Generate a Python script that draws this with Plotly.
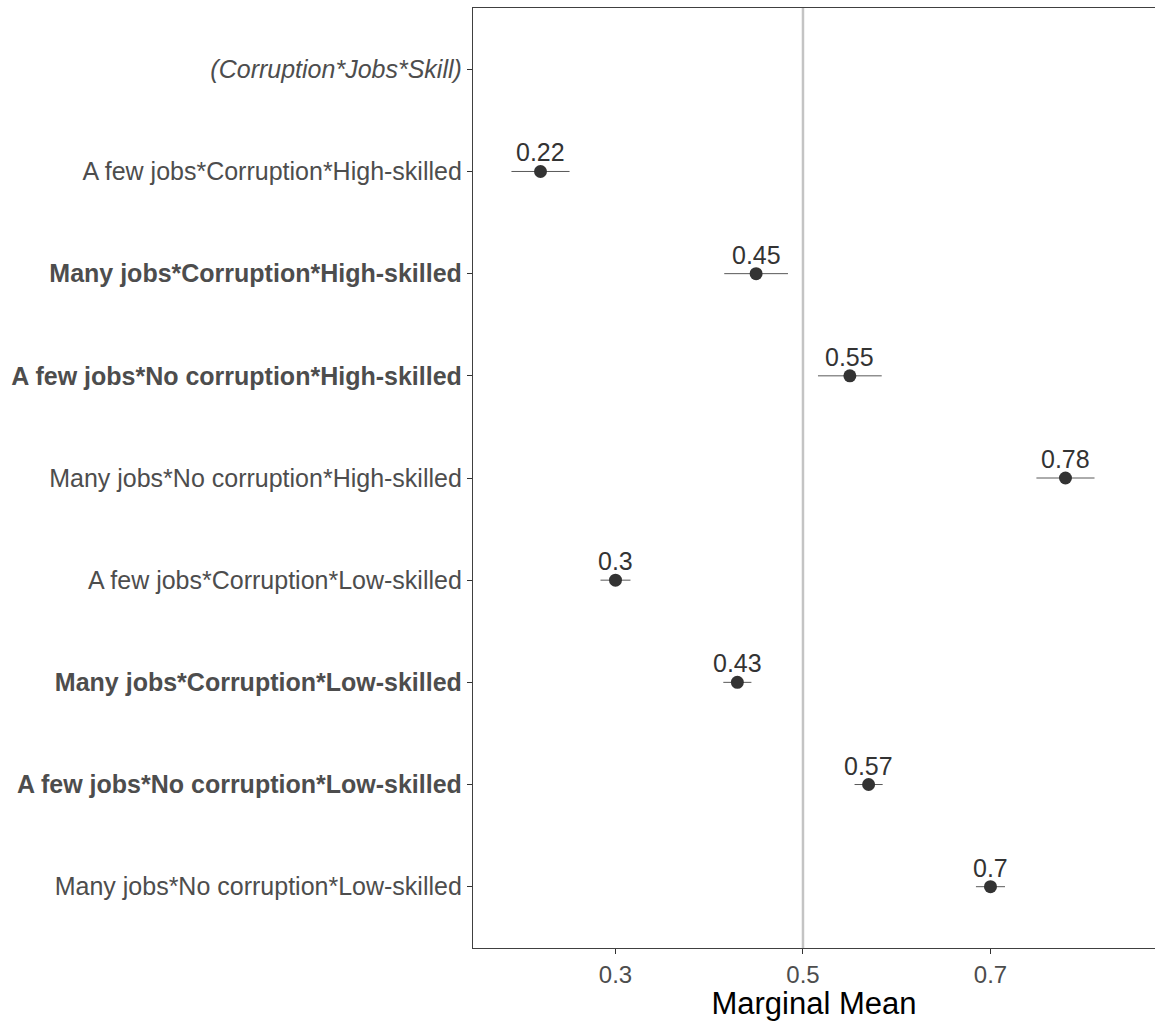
import plotly.graph_objects as go

# Conjoint marginal means by profile (Corruption x Jobs x Skill)
categories = [
    "<i>(Corruption*Jobs*Skill)</i>",
    "A few jobs*Corruption*High-skilled",
    "<b>Many jobs*Corruption*High-skilled</b>",
    "<b>A few jobs*No corruption*High-skilled</b>",
    "Many jobs*No corruption*High-skilled",
    "A few jobs*Corruption*Low-skilled",
    "<b>Many jobs*Corruption*Low-skilled</b>",
    "<b>A few jobs*No corruption*Low-skilled</b>",
    "Many jobs*No corruption*Low-skilled",
]
estimates = [None, 0.22, 0.45, 0.55, 0.78, 0.30, 0.43, 0.57, 0.70]
half_ci = [None, 0.031, 0.034, 0.034, 0.031, 0.016, 0.015, 0.015, 0.0155]
x_ticks = [0.3, 0.5, 0.7]

FONT = "Liberation Sans, Arial, sans-serif"

pos = list(range(len(categories)))
pts_y = [p for p, e in zip(pos, estimates) if e is not None]
pts_x = [e for e in estimates if e is not None]
pts_err = [h for h in half_ci if h is not None]

fig = go.Figure()

# reference line at 0.5
fig.add_shape(type="line", x0=0.5, x1=0.5, y0=0, y1=1, xref="x", yref="paper",
              line=dict(color="#c4c4c4", width=2.5), layer="below")

# confidence intervals
for x, y, h in zip(pts_x, pts_y, pts_err):
    fig.add_trace(go.Scatter(x=[x - h, x + h], y=[y, y], mode="lines",
                             line=dict(color="#595959", width=1),
                             showlegend=False, hoverinfo="skip"))

# point estimates
fig.add_trace(go.Scatter(x=pts_x, y=pts_y, mode="markers",
                         marker=dict(color="#333333", size=13),
                         showlegend=False))

# value labels
for x, y in zip(pts_x, pts_y):
    fig.add_annotation(x=x, y=y, text=f"{x:g}", showarrow=False,
                       yanchor="bottom", yshift=3,
                       font=dict(size=25, color="#333333", family=FONT))

fig.update_layout(
    width=1155, height=1021,
    margin=dict(l=473, r=0, t=8, b=73),
    plot_bgcolor="white", paper_bgcolor="white",
    font=dict(family=FONT),
    xaxis=dict(
        range=[0.148, 0.8755],
        tickvals=x_ticks, ticktext=[f"{v:g}" for v in x_ticks],
        showgrid=False, zeroline=False,
        showline=True, linecolor="#404040", linewidth=1.3, mirror=True,
        ticks="outside", ticklen=5, tickcolor="#333333",
        tickfont=dict(size=24, color="#4d4d4d"),
        title=dict(text="Marginal Mean", font=dict(size=31, color="black"),
                   standoff=6),
    ),
    yaxis=dict(
        range=[8.6, -0.6],
        tickvals=pos, ticktext=categories,
        showgrid=False, zeroline=False,
        showline=True, linecolor="#404040", linewidth=1.3, mirror=False,
        ticks="outside", ticklen=5, tickcolor="#333333",
        tickfont=dict(size=25, color="#4d4d4d"),
    ),
)

fig.write_html("out.html")
